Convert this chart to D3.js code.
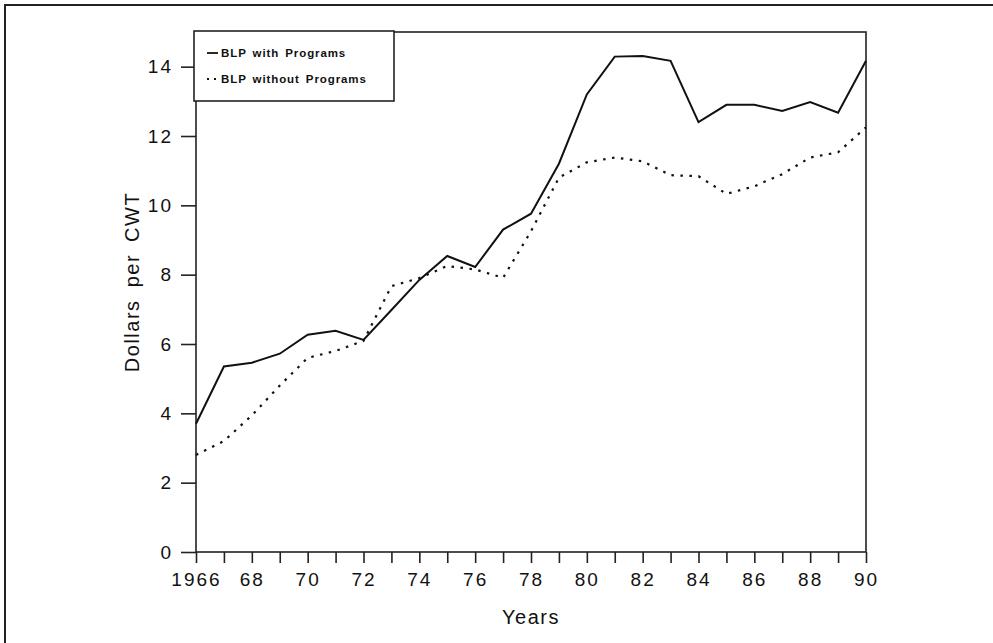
<!DOCTYPE html>
<html lang="en">
<head>
  <meta charset="UTF-8">
  <title>BLP with and without Programs</title>
  <script src="https://cdn.jsdelivr.net/npm/d3@7"></script>
  <style>
    body { margin: 0; background: #fff; }
    svg { display: block; font-family: "Liberation Sans", Arial, sans-serif; }
    .tick text { font-size: 19px; letter-spacing: 2px; fill: #111; }
    .axis-label { font-size: 20px; letter-spacing: 1.5px; word-spacing: 5px; fill: #111; }
    .legend text { font-size: 11.5px; font-weight: bold; fill: #111; letter-spacing: 0.9px; word-spacing: 2px; }
  </style>
</head>
<body>
<script>
  const years = d3.range(1966, 1991);
  const withPrograms = [3.7, 5.35, 5.46, 5.72, 6.27, 6.38, 6.12, 6.98, 7.85, 8.54, 8.22, 9.3, 9.76,
                        11.2, 13.2, 14.29, 14.31, 14.17, 12.4, 12.9, 12.9, 12.72, 12.98, 12.67, 14.17];
  const withoutPrograms = [2.8, 3.2, 3.94, 4.8, 5.6, 5.8, 6.09, 7.67, 7.9, 8.25, 8.15, 7.91, 9.25,
                           10.8, 11.24, 11.38, 11.27, 10.87, 10.84, 10.33, 10.55, 10.9, 11.38, 11.53, 12.25];
  const yTicks = [0, 2, 4, 6, 8, 10, 12, 14];
  const xLabelYears = [1966, 1968, 1970, 1972, 1974, 1976, 1978, 1980, 1982, 1984, 1986, 1988, 1990];
  const seriesNames = ["BLP with Programs", "BLP without Programs"];

  const W = 993, H = 643;
  const margin = {left: 196, right: 127, top: 32, bottom: 91};

  const svg = d3.select("body").append("svg")
    .attr("width", W)
    .attr("height", H);

  // outer frame (runs off the right and bottom edges)
  svg.append("path")
    .attr("d", `M5,${H + 2} L5,5 L${W + 2},5`)
    .attr("fill", "none")
    .attr("stroke", "#222")
    .attr("stroke-width", 2);

  const x = d3.scaleLinear()
    .domain([1966, 1990])
    .range([margin.left, W - margin.right]);

  const y = d3.scaleLinear()
    .domain([0, 15])
    .range([H - margin.bottom, margin.top]);

  // plot box
  svg.append("rect")
    .attr("x", x(1966))
    .attr("y", y(15))
    .attr("width", x(1990) - x(1966))
    .attr("height", y(0) - y(15))
    .attr("fill", "none")
    .attr("stroke", "#222")
    .attr("stroke-width", 1.6);

  const xAxis = d3.axisBottom(x)
    .tickValues(years)
    .tickSize(11)
    .tickPadding(6)
    .tickFormat(d => xLabelYears.includes(d) ? (d === 1966 ? "1966" : String(d).slice(2)) : "");

  const gx = svg.append("g")
    .attr("transform", `translate(0,${y(0)})`)
    .call(xAxis);
  gx.select(".domain").remove();
  gx.selectAll(".tick line").attr("stroke", "#222").attr("stroke-width", 1.6);
  gx.selectAll(".tick text").attr("dy", "0.9em");

  const yAxis = d3.axisLeft(y)
    .tickValues(yTicks)
    .tickSize(15)
    .tickPadding(8)
    .tickFormat(d3.format("d"));

  const gy = svg.append("g")
    .attr("transform", `translate(${x(1966)},0)`)
    .call(yAxis);
  gy.select(".domain").remove();
  gy.selectAll(".tick line").attr("stroke", "#222").attr("stroke-width", 1.6);

  svg.append("text")
    .attr("class", "axis-label")
    .attr("text-anchor", "middle")
    .attr("transform", `translate(139,${(y(0) + y(15)) / 2 - 10}) rotate(-90)`)
    .text("Dollars per CWT");

  svg.append("text")
    .attr("class", "axis-label")
    .attr("text-anchor", "middle")
    .attr("x", (x(1966) + x(1990)) / 2)
    .attr("y", 624)
    .text("Years");

  const line = d3.line()
    .x((d, i) => x(years[i]))
    .y(d => y(d));

  svg.append("path")
    .datum(withPrograms)
    .attr("d", line)
    .attr("fill", "none")
    .attr("stroke", "#111")
    .attr("stroke-width", 2)
    .attr("stroke-linejoin", "miter");

  svg.append("path")
    .datum(withoutPrograms)
    .attr("d", line)
    .attr("fill", "none")
    .attr("stroke", "#111")
    .attr("stroke-width", 2.2)
    .attr("stroke-dasharray", "2.5,6.5");

  // legend
  const legend = svg.append("g").attr("class", "legend");
  legend.append("rect")
    .attr("x", 194)
    .attr("y", 31)
    .attr("width", 200)
    .attr("height", 70)
    .attr("fill", "#fff")
    .attr("stroke", "#222")
    .attr("stroke-width", 1.6);

  const rows = legend.selectAll("g.row")
    .data(seriesNames)
    .enter().append("g")
    .attr("class", "row")
    .attr("transform", (d, i) => `translate(207,${53 + i * 26})`);

  rows.append("line")
    .attr("x1", 0)
    .attr("x2", 11)
    .attr("y1", 0)
    .attr("y2", 0)
    .attr("stroke", "#111")
    .attr("stroke-width", 1.8)
    .attr("stroke-dasharray", (d, i) => i === 0 ? null : "2,5");

  rows.append("text")
    .attr("x", 14)
    .attr("y", 4)
    .text(d => d);
</script>
</body>
</html>
